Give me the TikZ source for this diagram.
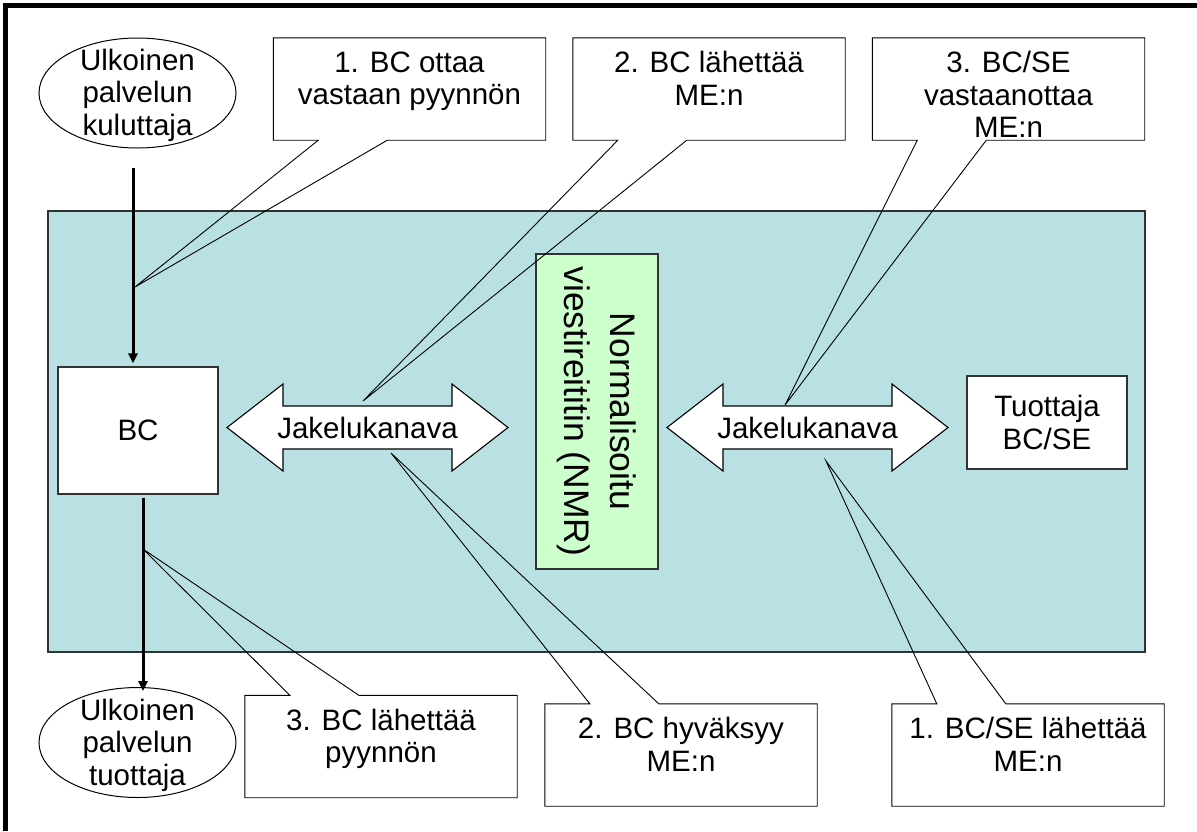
\documentclass[tikz,border=0pt]{standalone}
\usepackage{fontspec}
\setmainfont{Liberation Sans}
\usetikzlibrary{shapes.geometric,arrows.meta,calc}

\definecolor{poolteal}{RGB}{185,224,226}
\definecolor{nmrgreen}{RGB}{204,255,204}
\definecolor{edgegray}{RGB}{50,50,50}

\tikzset{
  txt/.style={font=\fontsize{29.5}{32.5}\selectfont, align=center, inner sep=0pt},
  bigtxt/.style={font=\fontsize{35.5}{46}\selectfont, align=center, inner sep=0pt},
  plainbox/.style={draw=edgegray, line width=1.1pt, fill=white, inner sep=0pt},
  calloutbox/.style={fill=white, draw=none, inner sep=0pt,
                     minimum width=272pt, minimum height=102pt},
  calloutline/.style={draw=black, line width=0.9pt, line join=miter},
  flow/.style={line width=3pt, -{Triangle[length=10pt,width=9pt]}},
  dblarrow/.style={draw=black, line width=1.1pt, fill=white, line join=miter},
  party/.style={ellipse, draw=black, line width=1pt, fill=white, inner sep=0pt,
                minimum width=197pt, minimum height=110pt},
}

% callout whose pointer leaves the bottom edge: #1 box node, #2 tip
\newcommand\calloutdown[2]{%
  \draw[calloutline] (#1.south west) -- (#1.north west) -- (#1.north east)
    -- (#1.south east) -- ($(#1.south west)+(114,0)$) -- (#2)
    -- ($(#1.south west)+(45,0)$) -- cycle;}
% callout whose pointer leaves the top edge
\newcommand\calloutup[2]{%
  \draw[calloutline] (#1.north west) -- ($(#1.north west)+(45,0)$) -- (#2)
    -- ($(#1.north west)+(114,0)$) -- (#1.north east) -- (#1.south east)
    -- (#1.south west) -- cycle;}
% two-headed channel arrow around a centre coordinate
\newcommand\chanarrow[1]{%
  \draw[dblarrow] ($(#1)+(-140.5,0)$) -- ($(#1)+(-84.5,-43.5)$)
    -- ($(#1)+(-84.5,-21.5)$) -- ($(#1)+(84.5,-21.5)$)
    -- ($(#1)+(84.5,-43.5)$) -- ($(#1)+(140.5,0)$)
    -- ($(#1)+(84.5,43.5)$) -- ($(#1)+(84.5,21.5)$)
    -- ($(#1)+(-84.5,21.5)$) -- ($(#1)+(-84.5,43.5)$) -- cycle;}

\begin{document}
\begin{tikzpicture}[x=1pt,y=-1pt]
\useasboundingbox (0,0) rectangle (1197,831);

% outer frame (only top and left edges fall inside the page)
\draw[line width=4.5pt] (5.5,831) -- (5.5,5.5) -- (1197,5.5);

% service bus area
\node[draw=edgegray, line width=1.3pt, fill=poolteal, inner sep=0pt,
      minimum width=1097pt, minimum height=441pt] (pool) at (596.5,431.5) {};

% normalised message router
\node[draw=edgegray, line width=1.1pt, fill=nmrgreen, inner sep=0pt,
      minimum width=122pt, minimum height=315pt] (nmr) at (597,411.5) {};
\node[bigtxt, rotate=-90] (nmrtext) at (nmr.center) {Normalisoitu\\viestireititin (NMR)};

% binding component and provider
\node[plainbox, minimum width=160pt, minimum height=127pt] (bc) at (138,430.5) {};
\node[txt] (bctext) at (bc.center) {BC};
\node[plainbox, minimum width=160pt, minimum height=93pt] (prov) at (1047,422.5) {};
\node[txt] (provtext) at (prov.center) {Tuottaja\\BC/SE};

% delivery channels
\coordinate (j1c) at (367.5,427.5);
\coordinate (j2c) at (807.5,427.5);
\chanarrow{j1c}
\chanarrow{j2c}
\node[txt] (j1) at (j1c) {Jakelukanava};
\node[txt] (j2) at (j2c) {Jakelukanava};

% external consumer and provider
\node[party] (cons) at (137.5,93) {};
\node[txt] (constext) at (137.5,95) {Ulkoinen\\palvelun\\kuluttaja};
\node[party] (extprov) at (137.5,742.5) {};
\node[txt] (extprovtext) at (137.5,745) {Ulkoinen\\palvelun\\tuottaja};

% request flow
\coordinate (inTop) at (133,168);
\draw[flow] (inTop) -- ($(bc.north)+(-5,-3)$);
\draw[flow] ($(bc.south)+(5,3)$) -- ($(extprov.north)+(5.5,4)$);

% callout tips
\coordinate (t1) at (135,287);
\coordinate (t2) at (363,401);
\coordinate (t3) at (785,405);
\coordinate (u3) at (143,549);
\coordinate (u2) at (391,453);
\coordinate (u1) at (826,461);

% callouts above
\node[calloutbox] (c1) at (409.5,89) {};
\node[calloutbox] (c2) at (709,89) {};
\node[calloutbox] (c3) at (1008.5,89) {};
\calloutdown{c1}{t1}
\calloutdown{c2}{t2}
\calloutdown{c3}{t3}
\node[txt, anchor=north] (c1text) at ($(c1.north)+(0,13.5)$) {1. BC ottaa\\vastaan pyynnön};
\node[txt, anchor=north] (c2text) at ($(c2.north)+(0,13.5)$) {2. BC lähettää\\ME:n};
\node[txt, anchor=north] (c3text) at ($(c3.north)+(0,13.5)$) {3. BC/SE\\vastaanottaa\\ME:n};

% callouts below
\node[calloutbox] (b3) at (381,746.5) {};
\node[calloutbox] (b2) at (681,755) {};
\node[calloutbox] (b1) at (1028,755) {};
\calloutup{b3}{u3}
\calloutup{b2}{u2}
\calloutup{b1}{u1}
\node[txt, anchor=north] (b3text) at ($(b3.north)+(0,13.5)$) {3. BC lähettää\\pyynnön};
\node[txt, anchor=north] (b2text) at ($(b2.north)+(0,13.5)$) {2. BC hyväksyy\\ME:n};
\node[txt, anchor=north] (b1text) at ($(b1.north)+(0,13.5)$) {1. BC/SE lähettää\\ME:n};
\end{tikzpicture}
\end{document}
